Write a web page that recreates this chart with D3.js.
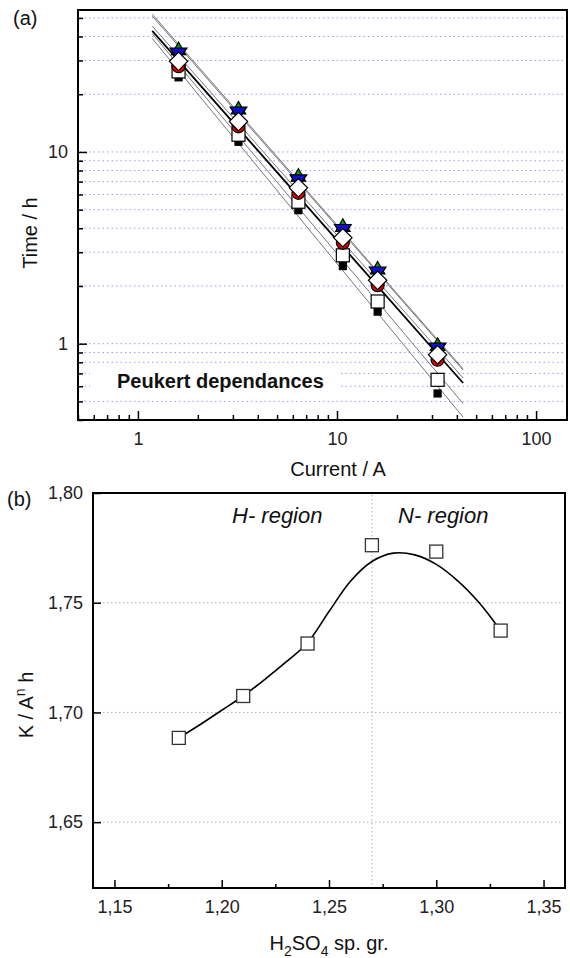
<!DOCTYPE html>
<html>
<head>
<meta charset="utf-8">
<script src="https://cdn.jsdelivr.net/npm/d3@7"></script>
<style>
  body { margin: 0; background: #fff; }
  svg { display: block; font-family: "Liberation Sans", Arial, sans-serif; }
</style>
</head>
<body>
<div id="chart"></div>
<script>
//// (a) Peukert plot : time vs current, log-log
const currents = [1.6, 3.2, 6.4, 10.7, 16, 32];
const tBlackSq = [24.5, 11.3, 4.97, 2.54, 1.47, 0.55];
const tOpenSq  = [26.3, 12.3, 5.5, 2.89, 1.66, 0.648];
const tRed     = [28.0, 13.6, 6.12, 3.36, 2.02, 0.825];
const tGreen   = [33.8, 16.6, 7.4, 4.05, 2.43, 0.97];
const tBlue    = [33.1, 16.3, 7.22, 3.98, 2.39, 0.957];
const tDiamond = [29.7, 14.4, 6.5, 3.57, 2.14, 0.876];
const fitRange = [1.18, 43];

//// (b) K vs acid density
const density = [1.18, 1.21, 1.24, 1.27, 1.30, 1.33];
const kValues = [1.6884, 1.7075, 1.7314, 1.7762, 1.7733, 1.7373];
const curveX = [1.18, 1.19, 1.20, 1.21, 1.22, 1.23, 1.24, 1.25, 1.26, 1.27, 1.28, 1.29, 1.30, 1.31, 1.32, 1.33];
const curveY = [1.6884, 1.6945, 1.7010, 1.7075, 1.7150, 1.7230, 1.7318, 1.7460, 1.7598, 1.7688, 1.7726, 1.7718, 1.7675, 1.7600, 1.7500, 1.7373];
const kTicks = [1.65, 1.70, 1.75, 1.80];
const dTicks = [1.15, 1.20, 1.25, 1.30, 1.35];
const dMinor = [1.175, 1.225, 1.275, 1.325];
const regionSplit = 1.27;

const W = 570, H = 958;
const svg = d3.select("#chart").append("svg").attr("width", W).attr("height", H);

// ---------- top chart ----------
const xA = d3.scaleLog().domain([0.5, 143]).range([78, 567]);
const yA = d3.scaleLog().domain([0.4, 55]).range([420, 10]);
const isMajor = v => Math.abs(Math.log10(v) - Math.round(Math.log10(v))) < 1e-9;

const gA = svg.append("g");

// gridlines
gA.selectAll("line.grid").data(yA.ticks().filter(v => v > 0.41))
  .enter().append("line")
  .attr("x1", 80).attr("x2", 567)
  .attr("y1", d => yA(d)).attr("y2", d => yA(d))
  .attr("stroke", "#9a9aff").attr("stroke-width", 1).attr("stroke-dasharray", "1.5,3");

// label box hides grid
gA.append("rect").attr("x", 90).attr("y", 366).attr("width", 250).attr("height", 29).attr("fill", "#fff");
gA.append("text").text("Peukert dependances")
  .attr("x", 117).attr("y", 388)
  .style("font-weight", "bold").style("font-size", "20px").attr("fill", "#111");

// fit lines (least squares in log-log)
const fit = (xs, ys) => {
  const lx = xs.map(Math.log10), ly = ys.map(Math.log10);
  const mx = d3.mean(lx), my = d3.mean(ly);
  const b = d3.sum(lx.map((v, i) => (v - mx) * (ly[i] - my))) / d3.sum(lx.map(v => (v - mx) * (v - mx)));
  const a = my - b * mx;
  return x => Math.pow(10, a + b * Math.log10(x));
};
svg.append("clipPath").attr("id", "clipA").append("rect")
  .attr("x", 78).attr("y", 10).attr("width", 489).attr("height", 410);

const fitSeries = [
  {t: tBlackSq, c: "#777", w: 1},
  {t: tOpenSq, c: "#777", w: 1},
  {t: tGreen, c: "#777", w: 1},
  {t: tBlue, c: "#777", w: 1},
  {t: tDiamond, c: "#777", w: 1},
  {t: tRed, c: "#000", w: 1.8}
];
const fitG = gA.append("g").attr("clip-path", "url(#clipA)");
fitSeries.forEach(s => {
  const f = fit(currents, s.t);
  fitG.append("line")
    .attr("x1", xA(fitRange[0])).attr("y1", yA(f(fitRange[0])))
    .attr("x2", xA(fitRange[1])).attr("y2", yA(f(fitRange[1])))
    .attr("stroke", s.c).attr("stroke-width", s.w);
});

// markers
const pts = (arr) => currents.map((c, i) => [xA(c), yA(arr[i])]);
const mk = gA.append("g").attr("stroke", "#000").attr("stroke-width", 1.2);
mk.selectAll("rect.bs").data(pts(tBlackSq)).enter().append("rect")
  .attr("x", d => d[0] - 3.5).attr("y", d => d[1] - 3.5).attr("width", 7).attr("height", 7)
  .attr("fill", "#000");
mk.selectAll("rect.os").data(pts(tOpenSq)).enter().append("rect")
  .attr("x", d => d[0] - 6.5).attr("y", d => d[1] - 6.5).attr("width", 13).attr("height", 13)
  .attr("fill", "#fff");
mk.selectAll("circle").data(pts(tRed)).enter().append("circle")
  .attr("cx", d => d[0]).attr("cy", d => d[1]).attr("r", 6.5).attr("fill", "#e00000");
const triUp = d3.symbol().type(d3.symbolTriangle).size(90);
mk.selectAll("path.gr").data(pts(tGreen)).enter().append("path")
  .attr("d", triUp).attr("transform", d => `translate(${d[0]},${d[1]})`).attr("fill", "#00a000");
mk.selectAll("path.bl").data(pts(tBlue)).enter().append("path")
  .attr("d", triUp).attr("transform", d => `translate(${d[0]},${d[1]}) rotate(180) scale(1.15,1)`).attr("fill", "#1010d0");
mk.selectAll("rect.dm").data(pts(tDiamond)).enter().append("rect")
  .attr("x", -6.5).attr("y", -6.5).attr("width", 13).attr("height", 13)
  .attr("transform", d => `translate(${d[0]},${d[1]}) rotate(45)`)
  .attr("fill", "#fff");

// axes
const styleAxis = g => {
  g.select(".domain").remove();
  g.selectAll("line").attr("stroke", "#000").attr("stroke-width", 1.5);
  g.selectAll("text").style("font-size", "18px").attr("fill", "#222");
};
gA.append("g").attr("transform", "translate(0,420)")
  .call(d3.axisBottom(xA).tickValues(xA.ticks().filter(isMajor)).tickSize(-9).tickPadding(12).tickFormat(d3.format("d")))
  .call(styleAxis);
gA.append("g").attr("transform", "translate(0,420)")
  .call(d3.axisBottom(xA).tickValues(xA.ticks().filter(v => !isMajor(v))).tickSize(-5).tickFormat(""))
  .call(styleAxis);
gA.append("g").attr("transform", "translate(78,0)")
  .call(d3.axisLeft(yA).tickValues(yA.ticks().filter(isMajor)).tickSize(-9).tickPadding(10).tickFormat(d3.format("d")))
  .call(styleAxis);
gA.append("g").attr("transform", "translate(78,0)")
  .call(d3.axisLeft(yA).tickValues(yA.ticks().filter(v => !isMajor(v))).tickSize(-5).tickFormat(""))
  .call(styleAxis);

gA.append("rect").attr("x", 78).attr("y", 10).attr("width", 489).attr("height", 410)
  .attr("fill", "none").attr("stroke", "#000").attr("stroke-width", 2);

gA.append("text").text("Current / A").attr("x", 338).attr("y", 476)
  .attr("text-anchor", "middle").style("font-size", "20px").attr("fill", "#111");
gA.append("text").text("Time / h").attr("transform", "translate(37,233) rotate(-90)")
  .attr("text-anchor", "middle").style("font-size", "20px").attr("fill", "#111");
gA.append("text").text("(a)").attr("x", 13).attr("y", 25).style("font-size", "20px").attr("fill", "#111");

// ---------- bottom chart ----------
const xB = d3.scaleLinear().domain([1.14, 1.36]).range([93, 565]);
const yB = d3.scaleLinear().domain([1.62, 1.80]).range([888, 493]);
const comma = d => d3.format(".2f")(d).replace(".", ",");
const gB = svg.append("g");

gB.selectAll("line.hg").data(kTicks.slice(0, 3)).enter().append("line")
  .attr("x1", 95).attr("x2", 563).attr("y1", d => yB(d)).attr("y2", d => yB(d))
  .attr("stroke", "#b0b0b0").attr("stroke-width", 1).attr("stroke-dasharray", "1.5,2.5");
gB.append("line").attr("x1", xB(regionSplit)).attr("x2", xB(regionSplit)).attr("y1", 495).attr("y2", 886)
  .attr("stroke", "#b0b0b0").attr("stroke-width", 1).attr("stroke-dasharray", "1.5,2.5");

gB.append("path").datum(curveX.map((x, i) => [x, curveY[i]]))
  .attr("d", d3.line().x(d => xB(d[0])).y(d => yB(d[1])).curve(d3.curveCatmullRom))
  .attr("fill", "none").attr("stroke", "#000").attr("stroke-width", 1.6);

gB.selectAll("rect.pt").data(density).enter().append("rect")
  .attr("x", (d, i) => xB(d) - 6.5).attr("y", (d, i) => yB(kValues[i]) - 6.5)
  .attr("width", 13).attr("height", 13)
  .attr("fill", "#fff").attr("stroke", "#333").attr("stroke-width", 1.3);

gB.append("g").attr("transform", "translate(0,888)")
  .call(d3.axisBottom(xB).tickValues(dTicks).tickSize(-8).tickPadding(12).tickFormat(comma))
  .call(styleAxis);
gB.append("g").attr("transform", "translate(0,888)")
  .call(d3.axisBottom(xB).tickValues(dMinor).tickSize(-4).tickFormat(""))
  .call(styleAxis);
gB.append("g").attr("transform", "translate(93,0)")
  .call(d3.axisLeft(yB).tickValues(kTicks).tickSize(-8).tickPadding(10).tickFormat(comma))
  .call(styleAxis);

gB.append("rect").attr("x", 93).attr("y", 493).attr("width", 472).attr("height", 395)
  .attr("fill", "none").attr("stroke", "#000").attr("stroke-width", 2);

gB.append("text").text("H- region").attr("x", 232).attr("y", 523)
  .style("font-size", "22px").style("font-style", "italic").attr("fill", "#111");
gB.append("text").text("N- region").attr("x", 398).attr("y", 523)
  .style("font-size", "22px").style("font-style", "italic").attr("fill", "#111");
gB.append("text").text("(b)").attr("x", 7).attr("y", 506).style("font-size", "20px").attr("fill", "#111");

const yl = gB.append("text").attr("transform", "translate(33,705) rotate(-90)")
  .attr("text-anchor", "middle").style("font-size", "20px").attr("fill", "#111");
yl.append("tspan").text("K / A");
yl.append("tspan").text("n").attr("dy", -8).style("font-size", "14px");
yl.append("tspan").text(" h").attr("dy", 8);

const xl = gB.append("text").attr("x", 329).attr("y", 950)
  .attr("text-anchor", "middle").style("font-size", "20px").attr("fill", "#111");
xl.append("tspan").text("H");
xl.append("tspan").text("2").attr("dy", 6).style("font-size", "14px");
xl.append("tspan").text("SO").attr("dy", -6);
xl.append("tspan").text("4").attr("dy", 6).style("font-size", "14px");
xl.append("tspan").text(" sp. gr.").attr("dy", -6);
</script>
</body>
</html>
